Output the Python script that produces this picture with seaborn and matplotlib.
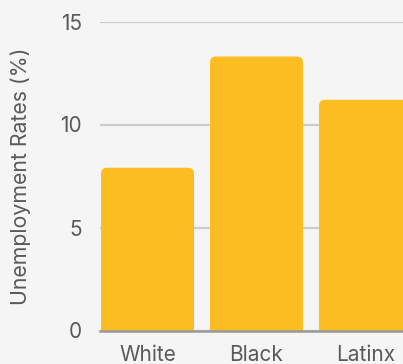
import matplotlib
matplotlib.use("Agg")
import matplotlib.pyplot as plt
import seaborn as sns
import pandas as pd
from matplotlib.patches import FancyBboxPatch

categories = ["White", "Black", "Latinx"]
values = [7.9, 13.3, 11.2]
yticks = [0, 5, 10, 15]

BG = "#F5F5F5"
BAR = "#FBBD21"
TXT = "#5A5A5A"

sns.set_theme(style="white")
plt.rcParams['font.family'] = ['Inter', 'DejaVu Sans']

fig = plt.figure(figsize=(4.03, 3.64), dpi=100, facecolor=BG)
ax = fig.add_axes([100/403, 33.5/364, 1 - 100/403, (330.5 - 21.5)/364])
ax.set_facecolor(BG)

df = pd.DataFrame({"group": categories, "rate": values})
width = 93/109
sns.barplot(data=df, x="group", y="rate", color=BAR, width=width, ax=ax,
            saturation=1, zorder=3)

ax.set_xlim(-47.5/109, 255.5/109)
ax.set_ylim(0, 15)

# rounded top corners
r = 6/109
aspect = (1/20.6)/(1/109)
for p in list(ax.patches):
    x0, w, h = p.get_x(), p.get_width(), p.get_height()
    p.set_visible(False)
    fb = FancyBboxPatch((x0, -1), w, h + 1,
                        boxstyle=f"round,pad=0,rounding_size={r}",
                        mutation_aspect=aspect, facecolor=BAR,
                        edgecolor="none", zorder=3, clip_on=True)
    ax.add_patch(fb)

ax.set_yticks(yticks)
ax.grid(axis="y", color="#CCCCCC", linewidth=1.6, zorder=0)
ax.set_axisbelow(True)
for s in ["top", "right", "left"]:
    ax.spines[s].set_visible(False)
ax.spines["bottom"].set_color("#999999")
ax.spines["bottom"].set_linewidth(1.8)
ax.spines["bottom"].set_zorder(5)

ax.tick_params(axis="both", length=0, labelsize=15, labelcolor=TXT)
ax.tick_params(axis="y", pad=13)
ax.tick_params(axis="x", pad=10.5)
ax.set_xlabel("")
ax.set_ylabel("Unemployment Rates (%)", fontsize=15.3, color=TXT, labelpad=21)

fig.savefig("out.png", dpi=100, facecolor=BG)
